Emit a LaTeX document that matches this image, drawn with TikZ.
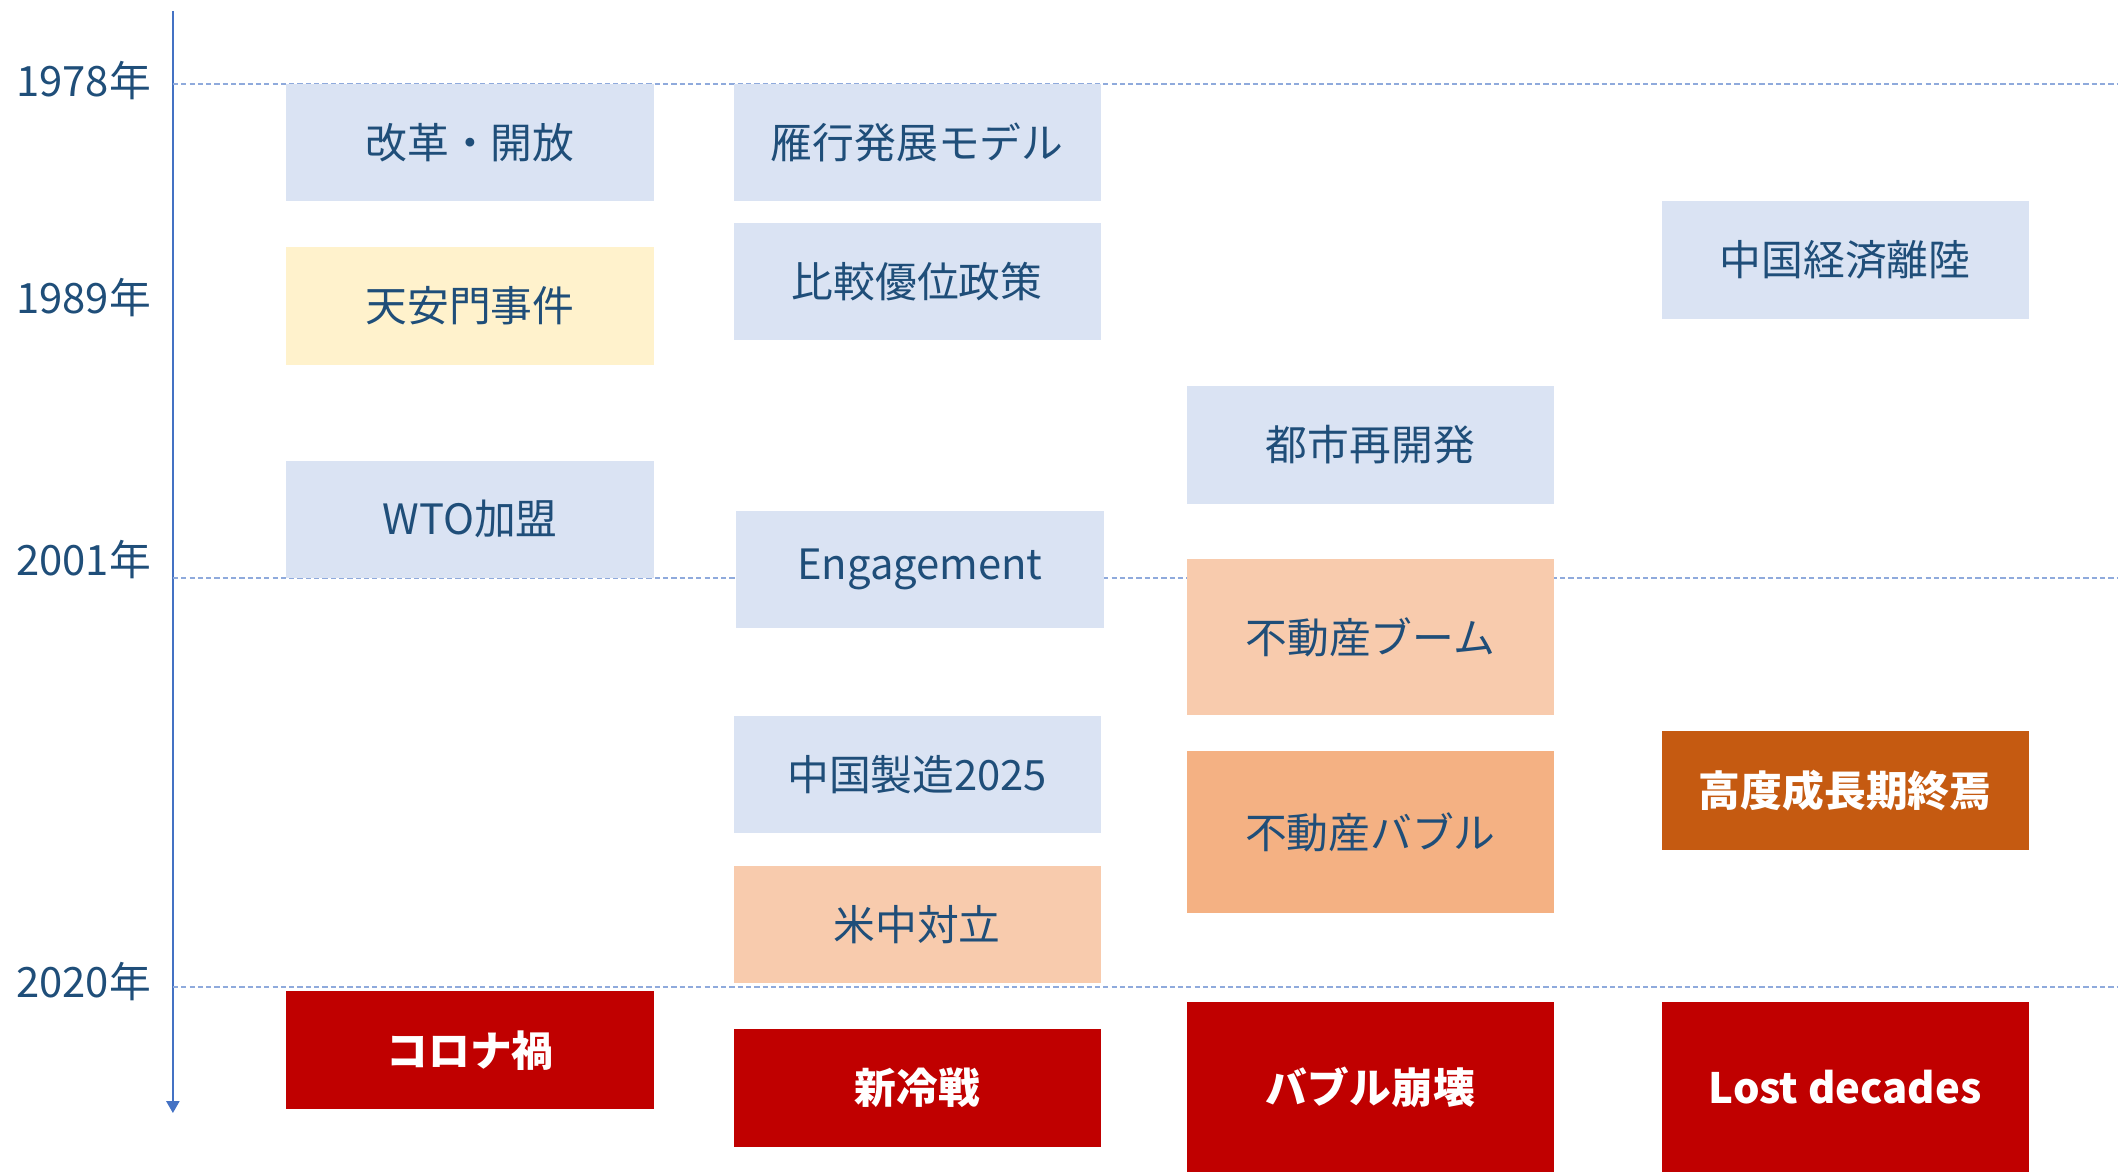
\documentclass[tikz,border=0pt]{standalone}
\usepackage{fontspec}
\setmainfont{Noto Sans CJK JP}
\usetikzlibrary{arrows.meta}

\definecolor{txtblue}{HTML}{1F4E79}
\definecolor{paleblue}{HTML}{DAE3F3}
\definecolor{paleyellow}{HTML}{FFF2CC}
\definecolor{paleorange}{HTML}{F8CBAD}
\definecolor{midorange}{HTML}{F4B183}
\definecolor{darkorange}{HTML}{C55A11}
\definecolor{darkred}{HTML}{C00000}
\definecolor{axisblue}{HTML}{4472C4}
\definecolor{gridblue}{HTML}{8FAADC}

\tikzset{
  event/.style={inner sep=0pt, minimum width=5.44cm, minimum height=1.74cm,
                text=txtblue, font=\fontsize{17.6}{20}\selectfont},
  calm/.style={event, fill=paleblue},
  shock/.style={event, fill=paleyellow},
  heat/.style={event, fill=paleorange},
  hot/.style={event, fill=midorange},
  crisis/.style={event, fill=darkred, text=white, font=\fontsize{17.6}{20}\selectfont\bfseries},
  turn/.style={crisis, fill=darkorange},
  yearlbl/.style={anchor=east, inner sep=0pt, text=txtblue, font=\fontsize{17.6}{20}\selectfont},
  yearline/.style={gridblue, line width=0.8pt, dash pattern=on 2.2pt off 1.3pt},
}

\begin{document}
\begin{tikzpicture}[x=0.02cm, y=-0.02cm]
        \useasboundingbox (0,0) rectangle (1568,868);

        % time axis
        \coordinate (axtop) at (128,8);
        \coordinate (axbot) at (128,824);
        \draw[axisblue, line width=0.8pt, -{Triangle[width=5.5pt,length=5pt]}] (axtop) -- (axbot);

        % years
        \node[yearlbl] (y1978) at (112,60) {1978年};
        \node[yearlbl] (y1989) at (112,220) {1989年};
        \node[yearlbl] (y2001) at (112,414) {2001年};
        \node[yearlbl] (y2020) at (112,727) {2020年};
        \coordinate (l1978) at (1568,62);
        \coordinate (l2001) at (1568,428);
        \coordinate (l2020) at (1568,731);
        \draw[yearline] (128,62) -- (l1978);
        \draw[yearline] (128,428) -- (l2001);
        \draw[yearline] (128,731) -- (l2020);

        % column 1
        \node[calm] (kaikaku) at (348,105.5) {改革・開放};
        \node[shock] (tenanmon) at (348,226.5) {天安門事件};
        \node[calm] (wto) at (348,384.5) {WTO加盟};
        \node[crisis] (corona) at (348,777.5) {コロナ禍};

        % column 2
        \node[calm] (gankou) at (679,105.5) {雁行発展モデル};
        \node[calm] (hikaku) at (679,208.5) {比較優位政策};
        \node[calm] (engage) at (681,421.5) {Engagement};
        \node[calm] (made2025) at (679,573.5) {中国製造2025};
        \node[heat] (beichu) at (679,684.5) {米中対立};
        \node[crisis] (reisen) at (679,805.5) {新冷戦};

        % column 3
        \node[calm] (toshi) at (1014.5,329.5) {都市再開発};
        \node[heat, minimum height=2.3cm] (boom) at (1014.5,471.5) {不動産ブーム};
        \node[hot, minimum height=2.4cm] (bubble) at (1014.5,616) {不動産バブル};
        \node[crisis, minimum height=2.52cm] (collapse) at (1014.5,805) {バブル崩壊};

        % column 4
        \node[calm] (ririku) at (1366,192.5) {中国経済離陸};
        \node[turn, minimum height=1.76cm] (shuen) at (1366,585) {高度成長期終焉};
        \node[crisis, minimum height=2.52cm] (lost) at (1366,805) {Lost decades};
\end{tikzpicture}
\end{document}
